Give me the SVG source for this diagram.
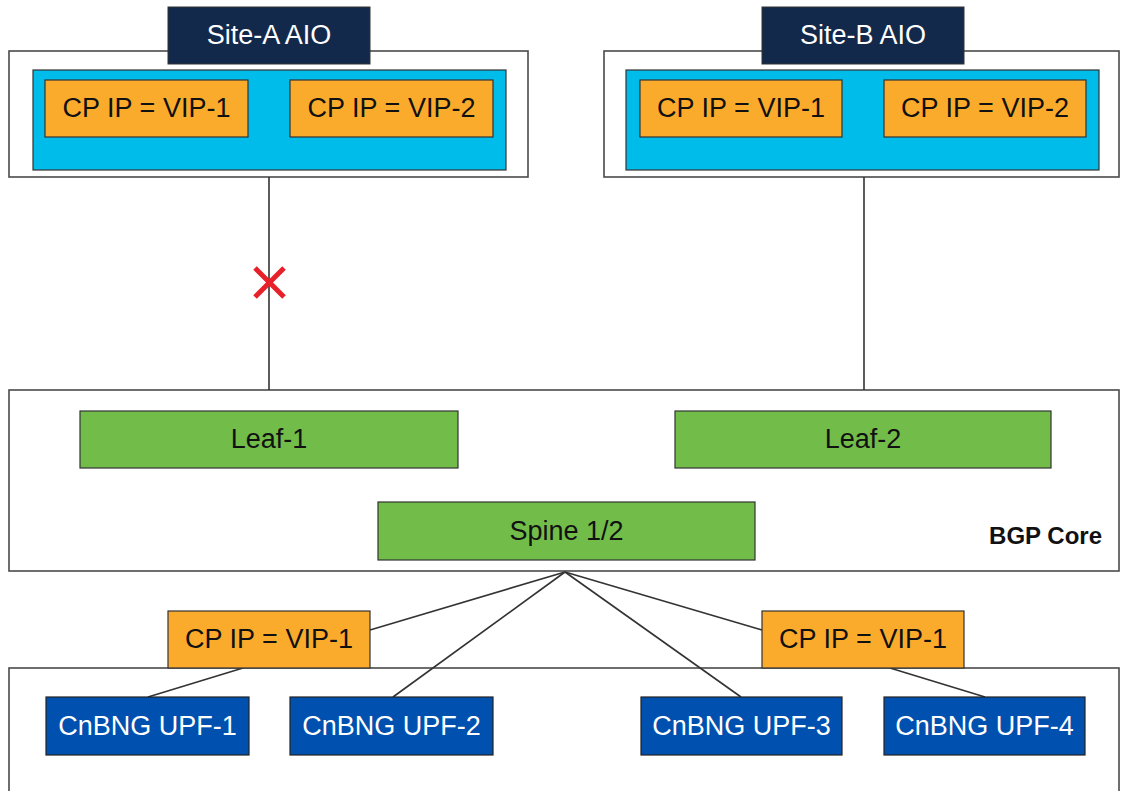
<svg xmlns="http://www.w3.org/2000/svg" width="1122" height="791" viewBox="0 0 1122 791">
<style>
text{font-family:"Liberation Sans",Arial,sans-serif;font-size:27px;text-anchor:middle}
.frame{fill:#fff;stroke:#4a4a4a;stroke-width:1.6}
.site{fill:#13294b;stroke:#333;stroke-width:1}
.site-t{fill:#fff}
.cyan{fill:#00bceb;stroke:#333;stroke-width:1.2}
.vip{fill:#fbab2c;stroke:#333;stroke-width:1.2}
.leaf{fill:#72bd4a;stroke:#333;stroke-width:1.2}
.upf{fill:#0051af;stroke:#222;stroke-width:1.2}
.dark{fill:#111}
.white{fill:#fff}
.conn{stroke:#333;stroke-width:1.6;fill:none}
</style>
<g id="site-a-frame"><rect class="frame" x="9" y="51" width="519" height="126"/></g>
<g id="site-b-frame"><rect class="frame" x="604" y="51" width="515" height="126"/></g>
<g id="bgp-core"><rect class="frame" x="9" y="390" width="1110" height="181"/><text x="1102" y="544" style="text-anchor:end;font-weight:bold;font-size:24px" class="dark">BGP Core</text></g>
<g id="upf-frame"><rect class="frame" x="9" y="668" width="1110" height="140"/></g>
<g id="connectors">
<line class="conn" x1="269" y1="177" x2="269" y2="390"/>
<line class="conn" x1="864" y1="177" x2="864" y2="390"/>
<line class="conn" x1="565" y1="572" x2="370" y2="630"/>
<line class="conn" x1="565" y1="572" x2="393" y2="697"/>
<line class="conn" x1="565" y1="572" x2="741" y2="697"/>
<line class="conn" x1="565" y1="572" x2="762" y2="630"/>
<line class="conn" x1="243" y1="668" x2="148" y2="697"/>
<line class="conn" x1="890" y1="668" x2="985" y2="697"/>
</g>
<g id="link-down"><path d="M255 268 L284 297 M284 268 L255 297" stroke="#e8202a" stroke-width="5" fill="none"/></g>
<g id="site-a-cyan"><rect class="cyan" x="33" y="70" width="473" height="100"/></g>
<g id="site-b-cyan"><rect class="cyan" x="626" y="70" width="473" height="100"/></g>
<g id="site-a-label"><rect class="site" x="168" y="7" width="202" height="57"/><text class="site-t" x="269" y="44">Site-A AIO</text></g>
<g id="site-b-label"><rect class="site" x="762" y="7" width="202" height="57"/><text class="site-t" x="863" y="44">Site-B AIO</text></g>
<g id="a-vip1"><rect class="vip" x="45" y="80" width="203" height="57"/><text class="dark" x="146.5" y="117">CP IP = VIP-1</text></g>
<g id="a-vip2"><rect class="vip" x="290" y="80" width="203" height="57"/><text class="dark" x="391.5" y="117">CP IP = VIP-2</text></g>
<g id="b-vip1"><rect class="vip" x="640" y="80" width="202" height="57"/><text class="dark" x="741" y="117">CP IP = VIP-1</text></g>
<g id="b-vip2"><rect class="vip" x="884" y="80" width="202" height="57"/><text class="dark" x="985" y="117">CP IP = VIP-2</text></g>
<g id="leaf-1"><rect class="leaf" x="80" y="411" width="378" height="57"/><text class="dark" x="269" y="448">Leaf-1</text></g>
<g id="leaf-2"><rect class="leaf" x="675" y="411" width="376" height="57"/><text class="dark" x="863" y="448">Leaf-2</text></g>
<g id="spine"><rect class="leaf" x="378" y="502" width="377" height="58"/><text class="dark" x="566.5" y="540">Spine 1/2</text></g>
<g id="vip-left"><rect class="vip" x="168" y="611" width="202" height="57"/><text class="dark" x="269" y="648">CP IP = VIP-1</text></g>
<g id="vip-right"><rect class="vip" x="762" y="611" width="202" height="57"/><text class="dark" x="863" y="648">CP IP = VIP-1</text></g>
<g id="upf-1"><rect class="upf" x="46" y="697" width="203" height="58"/><text class="white" x="147.5" y="735">CnBNG UPF-1</text></g>
<g id="upf-2"><rect class="upf" x="290" y="697" width="203" height="58"/><text class="white" x="391.5" y="735">CnBNG UPF-2</text></g>
<g id="upf-3"><rect class="upf" x="641" y="697" width="201" height="58"/><text class="white" x="741.5" y="735">CnBNG UPF-3</text></g>
<g id="upf-4"><rect class="upf" x="884" y="697" width="201" height="58"/><text class="white" x="984.5" y="735">CnBNG UPF-4</text></g>
</svg>
